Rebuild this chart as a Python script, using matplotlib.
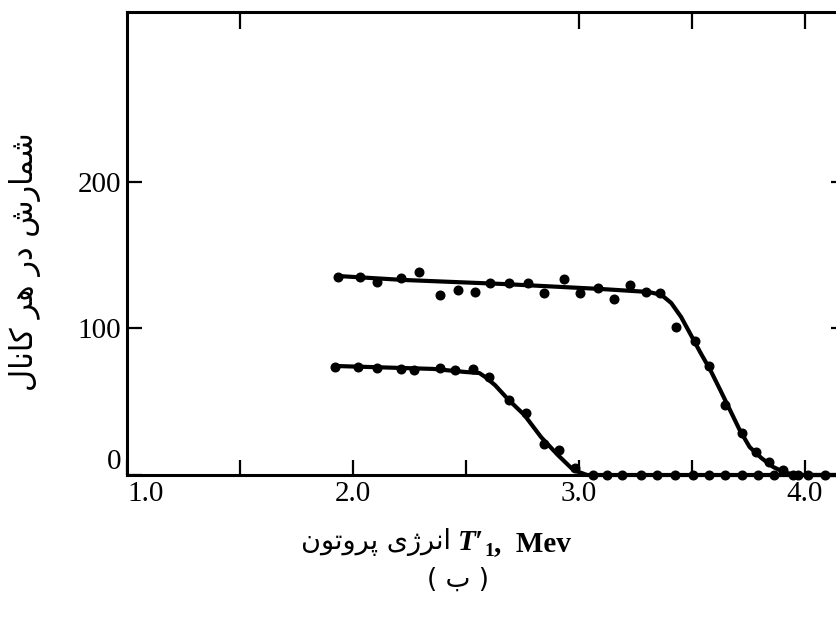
import matplotlib
matplotlib.use("Agg")
import matplotlib.pyplot as plt
from matplotlib.ticker import FixedLocator, NullFormatter

# ------------------------------------------------------
# Data (proton energy spectra)
# ------------------------------------------------------

# upper spectrum: measured points
upper_x = [1.935, 2.030, 2.108, 2.212, 2.290, 2.386, 2.464, 2.542, 2.607, 2.689,
           2.776, 2.845, 2.932, 3.005, 3.083, 3.157, 3.226, 3.296, 3.360, 3.430,
           3.512, 3.577, 3.646, 3.720, 3.785, 3.841, 3.902, 3.967]
upper_y = [135.2, 135.2, 131.7, 134.5, 138.6, 122.9, 126.3, 124.9, 131.1, 131.1,
           131.1, 124.2, 133.8, 124.2, 127.6, 120.1, 129.7, 124.9, 124.2, 101.0,
           91.5, 74.4, 47.8, 28.7, 15.7, 8.9, 3.4, 0.0]

# lower spectrum: measured points (zeros run on to the right edge)
lower_x = [1.922, 2.022, 2.104, 2.212, 2.269, 2.386, 2.451, 2.529, 2.602, 2.689,
           2.767, 2.845, 2.910, 2.984, 3.062, 3.122, 3.192, 3.274, 3.343, 3.426,
           3.503, 3.577, 3.646, 3.720, 3.794, 3.863, 3.945, 4.015, 4.088]
lower_y = [73.7, 73.7, 73.0, 72.4, 71.7, 73.0, 71.7, 72.4, 66.9, 51.2,
           42.3, 21.2, 17.1, 4.8, 0.0, 0.0, 0.0, 0.0, 0.0, 0.0,
           0.0, 0.0, 0.0, 0.0, 0.0, 0.0, 0.0, 0.0, 0.0]

# hand-drawn fit curves
upper_fit_x = [1.935, 2.225, 2.659, 3.092, 3.309, 3.365, 3.408, 3.452, 3.495, 3.538,
               3.581, 3.625, 3.668, 3.711, 3.755, 3.807, 3.859, 3.915, 3.980, 4.2]
upper_fit_y = [135.8, 133.1, 130.4, 127.0, 124.9, 122.9, 117.4, 107.8, 95.6, 83.3,
               71.7, 58.0, 44.4, 30.7, 19.1, 11.6, 5.5, 1.4, 0.0, 0.0]

lower_fit_x = [1.922, 2.355, 2.498, 2.559, 2.585, 2.628, 2.689, 2.758, 2.832, 2.906,
               2.975, 3.036, 4.2]
lower_fit_y = [74.4, 72.4, 70.3, 69.6, 66.9, 61.4, 51.2, 41.0, 25.9, 13.7,
               3.4, 0.0, 0.0]

x_ticks = [1.0, 2.0, 3.0, 4.0]
x_minor = [1.5, 2.5, 3.5]
top_ticks = [1.5, 3.0, 3.5, 4.0]
y_ticks = [0, 100, 200]
right_ticks = [100, 200]

# Persian labels, written with Arabic presentation forms (already shaped),
# reversed into visual order because matplotlib has no bidi support
ylabel_fa = "\uFEB7\uFEE4\uFE8E\uFEAD\uFEB5 \uFEA9\uFEAD \uFEEB\uFEAE \uFB90\uFE8E\uFEE7\uFE8E\uFEDD"[::-1]
xlabel_fa = "\uFE8D\uFEE7\uFEAE\uFB8A\uFBFC \uFB58\uFEAE\uFEED\uFE97\uFEEE\uFEE5"[::-1]
panel_fa = "( \uFE8F )"

# ------------------------------------------------------
# Figure
# ------------------------------------------------------
W, H = 836, 623
fig = plt.figure(figsize=(W / 100, H / 100), dpi=100)

ax_l, ax_r, ax_t, ax_b = 127, 845, 12, 475   # pixel box of the axes
ax = fig.add_axes([ax_l / W, (H - ax_b) / H, (ax_r - ax_l) / W, (ax_b - ax_t) / H])

ax.plot(upper_fit_x, upper_fit_y, color="black", lw=3.0, solid_capstyle="round", clip_on=False)
ax.plot(lower_fit_x, lower_fit_y, color="black", lw=3.0, solid_capstyle="round", clip_on=False)
ax.plot(upper_x, upper_y, "o", color="black", ms=6.2, clip_on=False)
ax.plot(lower_x, lower_y, "o", color="black", ms=6.2, clip_on=False)

ax.set_xlim(1.0, 1.0 + (ax_r - ax_l) / 226)
ax.set_ylim(0, 316)

for sp in ax.spines.values():
    sp.set_linewidth(2.2)

serif = "Liberation Serif"
ax.set_xticks(x_ticks)
ax.set_xticklabels(["%.1f" % v for v in x_ticks], fontfamily=serif, fontsize=21)
ax.xaxis.set_minor_locator(FixedLocator(x_minor))
ax.xaxis.set_minor_formatter(NullFormatter())
ax.set_yticks(y_ticks)
ax.set_yticklabels([str(v) for v in y_ticks], fontfamily=serif, fontsize=21)

ax.tick_params(which="both", direction="in", length=11, width=1.6, pad=4,
               top=False, right=False)

# "1.0" sits right of the corner, "0" a bit above the x axis, as in the scan
ax.xaxis.get_major_ticks()[0].label1.set_horizontalalignment("left")
ax.yaxis.get_major_ticks()[0].label1.set_verticalalignment("bottom")

top = ax.secondary_xaxis("top")
top.set_xticks(top_ticks)
top.set_xticklabels([])
top.tick_params(direction="in", length=12, width=1.6)

right = ax.secondary_yaxis("right")
right.set_yticks(right_ticks)
right.set_yticklabels([])
right.tick_params(direction="in", length=10, width=1.6)

# axis labels
fig.text(25 / W, (H - 262) / H, ylabel_fa, rotation=90, ha="center", va="center",
         family="DejaVu Sans", fontsize=22)

fig.text(451 / W, (H - 542) / H, xlabel_fa, ha="right", va="center",
         family="DejaVu Sans", fontsize=19.5)
t1 = fig.text(458 / W, (H - 542) / H, "T\u2032", ha="left", va="center",
              family=serif, fontsize=21, fontweight="bold", style="italic")
sub = ax.annotate("1", xy=(1, 0.15), xycoords=t1, ha="left", va="center",
                  family=serif, fontsize=14, fontweight="bold")
ax.annotate(",  Mev", xy=(1, 0.45), xycoords=(sub, t1), ha="left", va="center",
            family=serif, fontsize=21, fontweight="bold")

fig.text(458 / W, (H - 580) / H, panel_fa, ha="center", va="center",
         family="DejaVu Sans", fontsize=19)

fig.savefig("out.png", dpi=100)
